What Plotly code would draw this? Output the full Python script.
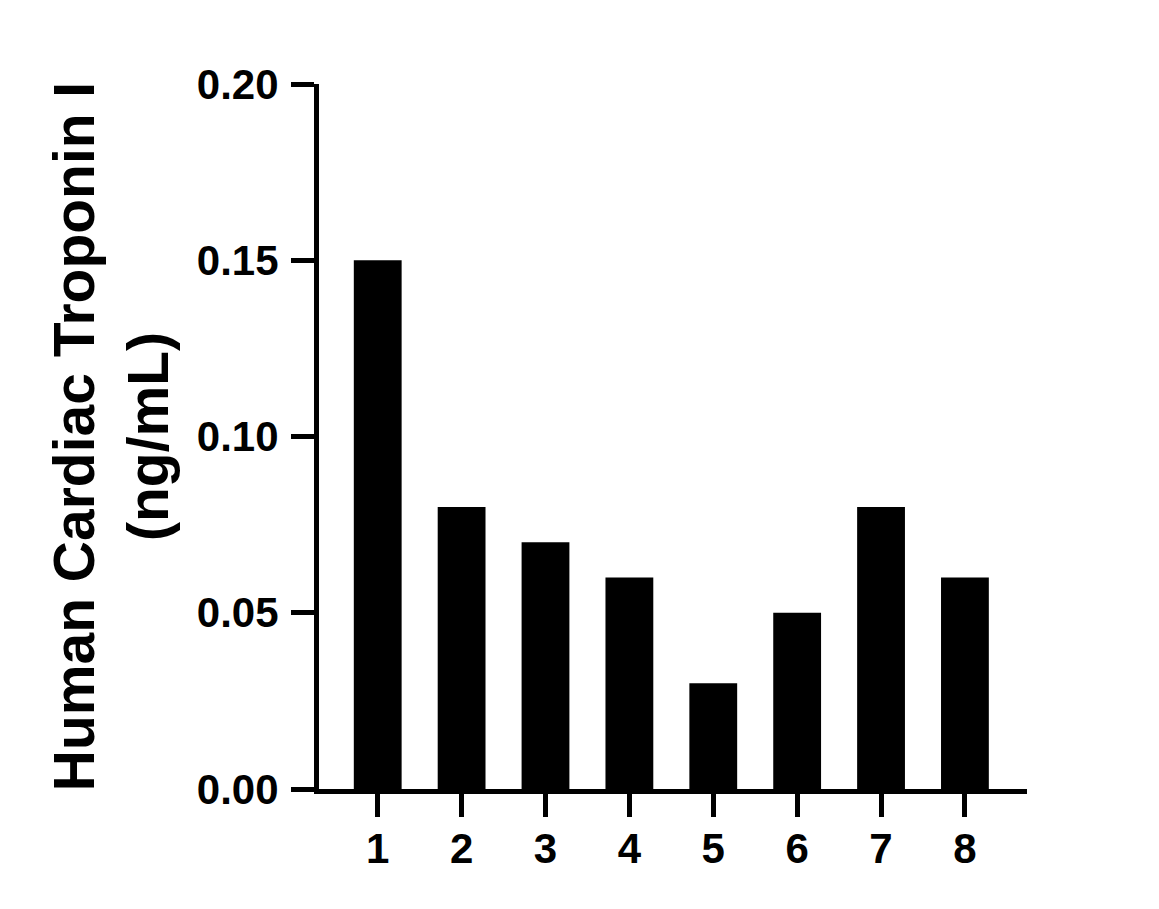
import plotly.graph_objects as go

categories = ["1", "2", "3", "4", "5", "6", "7", "8"]
values = [0.15, 0.08, 0.07, 0.06, 0.03, 0.05, 0.08, 0.06]
y_ticks = [0.0, 0.05, 0.10, 0.15, 0.20]
y_tick_labels = ["0.00", "0.05", "0.10", "0.15", "0.20"]
y_title = "Human Cardiac Troponin I<br>(ng/mL)"

x_pos = list(range(1, len(categories) + 1))

FONT = "Liberation Sans, Arial, Helvetica, sans-serif"

fig = go.Figure(
    go.Bar(
        x=x_pos,
        y=values,
        width=0.57,
        marker=dict(color="black", line=dict(width=0)),
    )
)

fig.update_layout(
    width=1159,
    height=909,
    paper_bgcolor="white",
    plot_bgcolor="white",
    margin=dict(l=311, r=140, t=76, b=128, autoexpand=False),
    showlegend=False,
    font=dict(family=FONT, color="black", size=42, weight="bold"),
)

fig.update_xaxes(
    range=[0.30, 8.74],
    tickmode="array",
    tickvals=x_pos,
    ticktext=categories,
    showline=True,
    linecolor="black",
    linewidth=5,
    ticks="outside",
    ticklen=23,
    tickwidth=5,
    tickcolor="black",
    ticklabelstandoff=-4,
    showgrid=False,
    zeroline=False,
    tickfont=dict(family=FONT, size=42, color="black", weight="bold"),
)

fig.update_yaxes(
    range=[0, 0.2],
    tickmode="array",
    tickvals=y_ticks,
    ticktext=y_tick_labels,
    showline=True,
    linecolor="black",
    linewidth=5,
    ticks="outside",
    ticklen=23,
    tickwidth=5,
    tickcolor="black",
    ticklabelstandoff=4,
    showgrid=False,
    zeroline=False,
    tickfont=dict(family=FONT, size=42, color="black", weight="bold"),
    title=dict(
        text=y_title,
        font=dict(family=FONT, size=57, color="black", weight="bold"),
        standoff=11,
    ),
)

fig.write_html("out.html")
